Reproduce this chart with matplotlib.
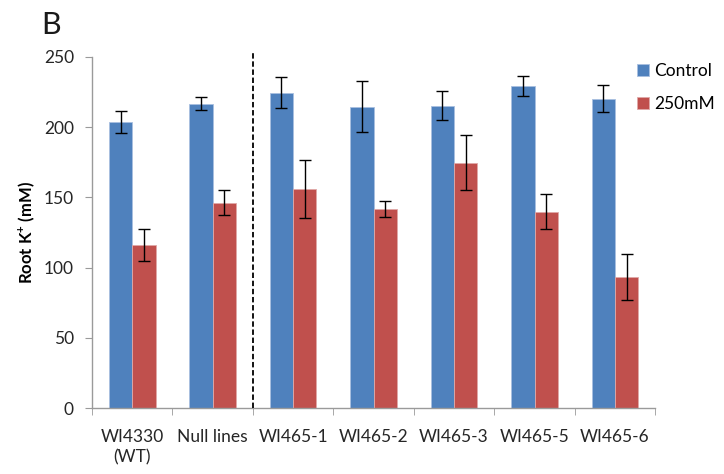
import matplotlib
matplotlib.use("Agg")
import matplotlib.pyplot as plt
import numpy as np

categories = ["WI4330\n(WT)", "Null lines", "WI465-1", "WI465-2", "WI465-3", "WI465-5", "WI465-6"]
control = [203.5, 216.7, 224.6, 214.6, 215.3, 229.3, 220.3]
control_err = [8.0, 4.8, 10.8, 18.0, 10.5, 7.0, 9.5]
salt = [116.1, 146.2, 155.8, 141.7, 174.7, 139.8, 93.5]
salt_err = [11.5, 9.0, 20.5, 5.5, 19.6, 12.4, 16.4]
series_names = ["Control", "250mM"]
yticks = [0, 50, 100, 150, 200, 250]

plt.rcParams['font.family'] = ['Lato', 'DejaVu Sans']
plt.rcParams['mathtext.default'] = 'regular'

fig = plt.figure(figsize=(7.24, 4.74), dpi=100)
ax = fig.add_axes([0.127, 0.139, 0.778, 0.741])

x = np.arange(len(categories))
w = 0.29
blue = "#4F81BD"
red = "#C0504D"
ekw = dict(ecolor="black", elinewidth=1.0, capsize=4, capthick=1.0)
ax.bar(x - w / 2, control, w, color=blue, edgecolor="#A9C0E0", linewidth=0.6,
       yerr=control_err, error_kw=ekw, label=series_names[0], zorder=2)
ax.bar(x + w / 2, salt, w, color=red, edgecolor="#E0A9A8", linewidth=0.6,
       yerr=salt_err, error_kw=ekw, label=series_names[1], zorder=2)

ax.set_xlim(-0.5, len(categories) - 0.5)
ax.set_ylim(0, 250)
ax.set_yticks(yticks)
ax.set_xticks(x)
ax.set_xticklabels(categories, linespacing=1.35)
ax.set_xticks(np.arange(len(categories) + 1) - 0.5, minor=True)
ax.tick_params(axis="x", which="major", length=0, pad=15, labelsize=12.5, labelcolor="#262626")
ax.tick_params(axis="x", which="minor", length=5, color="#9a9a9a", direction="out")
ax.tick_params(axis="y", length=5, color="#9a9a9a", labelsize=12.5, labelcolor="#262626", pad=8)

for s in ["top", "right"]:
    ax.spines[s].set_visible(False)
for s in ["left", "bottom"]:
    ax.spines[s].set_color("#9a9a9a")
    ax.spines[s].set_linewidth(1.0)

# separator between reference lines and transgenic lines
ax.plot([1.5, 1.5], [0, 254], linestyle=(0, (3, 1.5)), color="black",
        linewidth=1.3, clip_on=False, zorder=3)

ax.set_ylabel(r"Root K$^{+}$ (mM)", fontsize=12, fontweight="bold", labelpad=5)

leg = ax.legend(loc="upper left", bbox_to_anchor=(0.946, 1.017), frameon=False,
                fontsize=12.5, handlelength=0.7, handleheight=0.7,
                handletextpad=0.3, labelspacing=1.0, borderaxespad=0.3)

fig.text(0.057, 0.948, "B", fontsize=22, color="#1a1a1a", ha="left", va="center")

fig.savefig("out.png", dpi=100)
